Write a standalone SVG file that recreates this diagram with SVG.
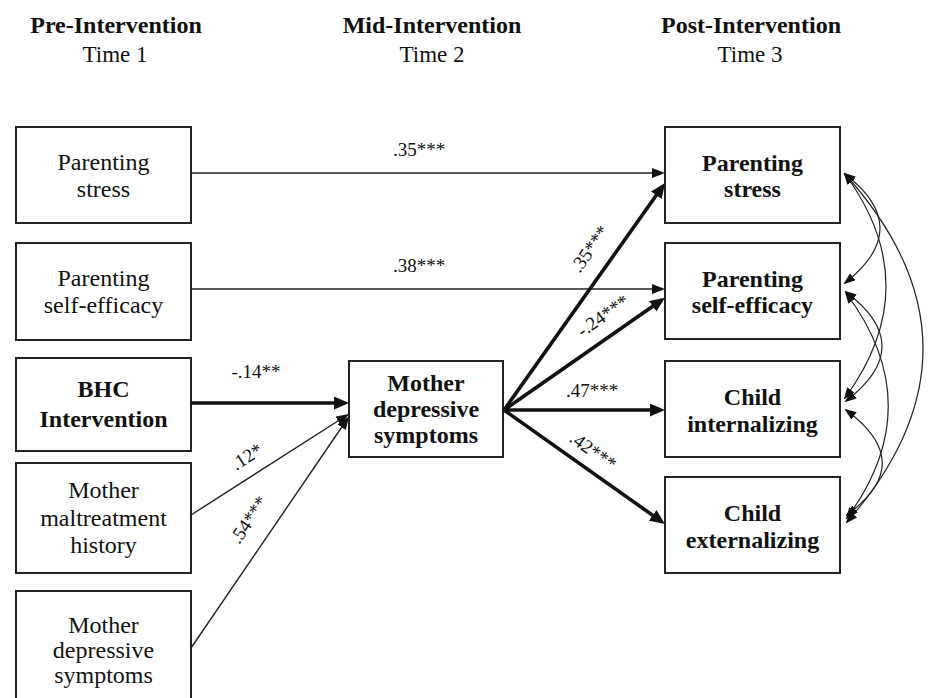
<svg xmlns="http://www.w3.org/2000/svg" width="928" height="698" viewBox="0 0 928 698">
<style>
text{font-family:"Liberation Serif","Times New Roman",serif;fill:#111}
.hd{font-size:24px;font-weight:bold;text-anchor:middle}
.tm{font-size:23px;text-anchor:middle}
.bx{fill:#fff;stroke:#222;stroke-width:2}
.t{font-size:24px;text-anchor:middle}
.b{font-size:24px;font-weight:bold;text-anchor:middle}
.lb{font-size:19px;text-anchor:middle}
.thin{fill:none;stroke:#222;stroke-width:1.4}
.thick{fill:none;stroke:#111;stroke-width:3.6}
.cv{fill:none;stroke:#222;stroke-width:1.2}
</style>
<defs>
<marker id="ah" markerUnits="userSpaceOnUse" markerWidth="13" markerHeight="10" refX="10" refY="5" orient="auto"><path d="M0,0 L13,5 L0,10 z" fill="#111"/></marker>
<marker id="ahT" markerUnits="userSpaceOnUse" markerWidth="15" markerHeight="13" refX="11" refY="6.5" orient="auto"><path d="M0,0 L15,6.5 L0,13 z" fill="#111"/></marker>
<marker id="ahC" markerUnits="userSpaceOnUse" markerWidth="12" markerHeight="9" refX="10" refY="4.5" orient="auto-start-reverse"><path d="M0,0 L12,4.5 L0,9 z" fill="#111"/></marker>
</defs>

<g id="headers">
<text class="hd" x="116" y="33">Pre-Intervention</text>
<text class="tm" x="115" y="62">Time 1</text>
<text class="hd" x="432" y="33">Mid-Intervention</text>
<text class="tm" x="432" y="62">Time 2</text>
<text class="hd" x="751" y="33">Post-Intervention</text>
<text class="tm" x="750" y="62">Time 3</text>
</g>

<g id="pre-parenting-stress">
<rect class="bx" x="16" y="127" width="175" height="96"/>
<text class="t" x="103.5" y="170">Parenting</text>
<text class="t" x="103.5" y="197">stress</text>
</g>
<g id="pre-parenting-self-efficacy">
<rect class="bx" x="16" y="243" width="175" height="97"/>
<text class="t" x="103.5" y="286">Parenting</text>
<text class="t" x="103.5" y="313">self-efficacy</text>
</g>
<g id="bhc-intervention">
<rect class="bx" x="16" y="358" width="175" height="93"/>
<text class="b" x="103.5" y="397">BHC</text>
<text class="b" x="103.5" y="427">Intervention</text>
</g>
<g id="mother-maltreatment-history">
<rect class="bx" x="16" y="463" width="175" height="110"/>
<text class="t" x="103.5" y="498">Mother</text>
<text class="t" x="103.5" y="526">maltreatment</text>
<text class="t" x="103.5" y="553">history</text>
</g>
<g id="pre-mother-depressive-symptoms">
<rect class="bx" x="16" y="591" width="175" height="120"/>
<text class="t" x="103.5" y="633">Mother</text>
<text class="t" x="103.5" y="658">depressive</text>
<text class="t" x="103.5" y="683">symptoms</text>
</g>

<g id="mid-mother-depressive-symptoms">
<rect class="bx" x="349" y="361" width="154" height="96"/>
<text class="b" x="426" y="391">Mother</text>
<text class="b" x="426" y="417">depressive</text>
<text class="b" x="426" y="443">symptoms</text>
</g>

<g id="post-parenting-stress">
<rect class="bx" x="665" y="127" width="175" height="96"/>
<text class="b" x="752.5" y="171">Parenting</text>
<text class="b" x="752.5" y="197">stress</text>
</g>
<g id="post-parenting-self-efficacy">
<rect class="bx" x="665" y="243" width="175" height="96"/>
<text class="b" x="752.5" y="287">Parenting</text>
<text class="b" x="752.5" y="313">self-efficacy</text>
</g>
<g id="child-internalizing">
<rect class="bx" x="665" y="361" width="175" height="96"/>
<text class="b" x="752.5" y="405">Child</text>
<text class="b" x="752.5" y="432">internalizing</text>
</g>
<g id="child-externalizing">
<rect class="bx" x="665" y="477" width="175" height="96"/>
<text class="b" x="752.5" y="521">Child</text>
<text class="b" x="752.5" y="548">externalizing</text>
</g>

<g id="connectors">
<path class="thin" d="M191,173 L662,173" marker-end="url(#ah)"/>
<path class="thin" d="M191,289 L662,289" marker-end="url(#ah)"/>
<path class="thick" d="M191,403 L345,403" marker-end="url(#ahT)"/>
<path class="thin" d="M191,515 L346.5,415.5" marker-end="url(#ah)"/>
<path class="thin" d="M191,648 L347.3,419" marker-end="url(#ah)"/>
<path class="thick" d="M504,410 L662.7,186.3" marker-end="url(#ahT)"/>
<path class="thick" d="M504,410 L661.7,300" marker-end="url(#ahT)"/>
<path class="thick" d="M504,410 L661,410" marker-end="url(#ahT)"/>
<path class="thick" d="M504,410 L661.7,521.7" marker-end="url(#ahT)"/>

<path class="cv" d="M845,174 Q915,228 845,283" marker-start="url(#ahC)" marker-end="url(#ahC)"/>
<path class="cv" d="M845,174 Q927,286 845,398" marker-start="url(#ahC)" marker-end="url(#ahC)"/>
<path class="cv" d="M845,174 Q1000,347 847,522" marker-start="url(#ahC)" marker-end="url(#ahC)"/>
<path class="cv" d="M846,292 Q918,346 846,401" marker-start="url(#ahC)" marker-end="url(#ahC)"/>
<path class="cv" d="M846,293 Q930,405 847,518" marker-start="url(#ahC)" marker-end="url(#ahC)"/>
<path class="cv" d="M846,410 Q918,463 847,515" marker-start="url(#ahC)" marker-end="url(#ahC)"/>

<text class="lb" x="419" y="156">.35***</text>
<text class="lb" x="419" y="272">.38***</text>
<text class="lb" x="256" y="378">-.14**</text>
<text class="lb" transform="translate(247,457) rotate(-33)" x="0" y="6">.12*</text>
<text class="lb" transform="translate(249,520) rotate(-56)" x="0" y="6">.54***</text>
<text class="lb" transform="translate(590,249) rotate(-54.7)" x="0" y="6">.35***</text>
<text class="lb" transform="translate(603,316) rotate(-35)" x="0" y="6">-.24***</text>
<text class="lb" x="592" y="397">.47***</text>
<text class="lb" transform="translate(593,451) rotate(35.5)" x="0" y="6">.42***</text>
</g>
</svg>
